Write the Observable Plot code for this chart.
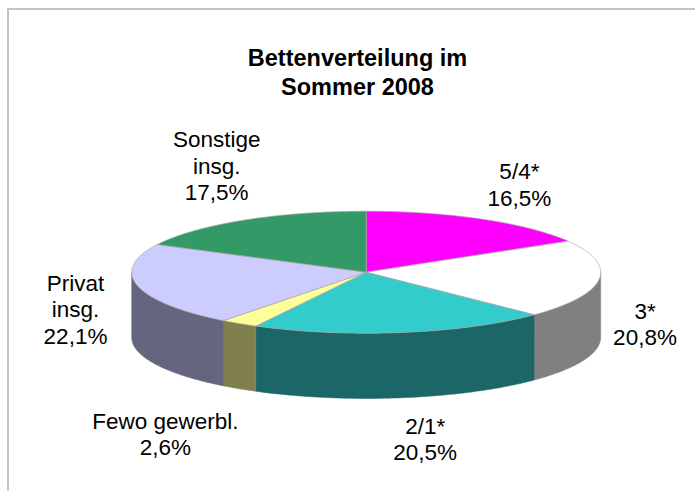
<!DOCTYPE html>
<html><head><meta charset="utf-8">
<script src="https://cdn.jsdelivr.net/npm/d3@7"></script>
<script src="https://cdn.jsdelivr.net/npm/@observablehq/plot@0.6"></script>
<style>
html,body{margin:0;padding:0;background:#fff;overflow:hidden;width:695px;height:491px;}
#frame{position:absolute;left:7px;top:8px;width:800px;height:600px;border:2px solid #c4c4c4;}
#chart{position:absolute;left:0;top:0;}
</style></head><body>
<div id="frame"></div>
<div id="chart"></div>
<script>
// ---- data ----
const categories = ["5/4*", "3*", "2/1*", "Fewo gewerbl.", "Privat insg.", "Sonstige insg."];
const labelTexts = ["5/4*\n16,5%", "3*\n20,8%", "2/1*\n20,5%", "Fewo gewerbl.\n2,6%", "Privat\ninsg.\n22,1%", "Sonstige\ninsg.\n17,5%"];
const shares = [16.5, 20.8, 20.5, 2.6, 22.1, 17.5];
const titleText = "Bettenverteilung im\nSommer 2008";

// ---- styles / layout ----
const topColors = ["#FF00FF", "#FFFFFF", "#33CCCC", "#FFFF99", "#CCCCFF", "#339966"];
const sideColors = ["#800080", "#808080", "#1B6666", "#80804D", "#656580", "#1A4D33"];
// label offsets (px) from the outer edge point at each slice's mid angle
const labelOffsets = [[37, -35], [46, -21], [23, 41], [-74, 45], [-62, -42], [-27, -55]];
const H = 1.07;          // pie thickness in units of the vertical radius
const RX = 234.5, RY = 61; // px per unit on x / y scales
const font = "'Liberation Sans', Arial, sans-serif";

// ---- geometry from data ----
const total = d3.sum(shares);
let acc = 0;
const slices = shares.map((v, i) => {
  const a0 = acc / total * 2 * Math.PI; acc += v;
  const a1 = acc / total * 2 * Math.PI;
  return {i, a0, a1, mid: (a0 + a1) / 2};
});
function arc(a0, a1, dy) {
  const n = Math.max(2, Math.ceil(Math.abs(a1 - a0) / 0.01));
  return d3.range(n + 1).map(j => {
    const a = a0 + (a1 - a0) * j / n;
    return {x: Math.sin(a), y: Math.cos(a) + dy};
  });
}
const marks = [];
// side walls (front half only)
slices.forEach(s => {
  const b0 = Math.max(s.a0, Math.PI / 2), b1 = Math.min(s.a1, 3 * Math.PI / 2);
  if (b1 > b0) {
    const pts = [...arc(b0, b1, 0), ...arc(b1, b0, -H)];
    pts.push(pts[0]);
    marks.push(Plot.line(pts, {x: "x", y: "y", fill: sideColors[s.i], stroke: sideColors[s.i], strokeWidth: 0.5}));
  }
});
// top faces
slices.forEach(s => {
  const pts = [{x: 0, y: 0}, ...arc(s.a0, s.a1, 0), {x: 0, y: 0}];
  marks.push(Plot.line(pts, {x: "x", y: "y", fill: topColors[s.i], stroke: "#a8a8a8", strokeWidth: 0.7}));
});
// labels
const labels = slices.map(s => {
  const front = s.mid > Math.PI / 2 && s.mid < 3 * Math.PI / 2;
  const px = Math.sin(s.mid), py = Math.cos(s.mid) - (front ? H : 0);
  const [ox, oy] = labelOffsets[s.i];
  return {x: px + ox / RX, y: py - oy / RY, text: labelTexts[s.i]};
});
marks.push(Plot.text(labels, {x: "x", y: "y", text: "text", fontSize: 22.5, fontFamily: font, fill: "#000",
  textAnchor: "middle", lineAnchor: "middle", lineHeight: 1.17}));
marks.push(Plot.text([titleText], {frameAnchor: "top", dx: 9.5, dy: 45, fontSize: 23.5, fontWeight: "bold",
  fontFamily: font, fill: "#000", lineAnchor: "top", lineHeight: 1.22, text: d => d}));

const chart = Plot.plot({
  width: 695, height: 491, margin: 0,
  x: {domain: [-1, 1], range: [131.2, 600.2], axis: null},
  y: {domain: [1, -1 - H], range: [210.7, 210.7 + RY * (2 + H)], axis: null},
  style: {background: "transparent", fontFamily: font},
  marks
});
document.getElementById("chart").appendChild(chart);
</script>
</body></html>
